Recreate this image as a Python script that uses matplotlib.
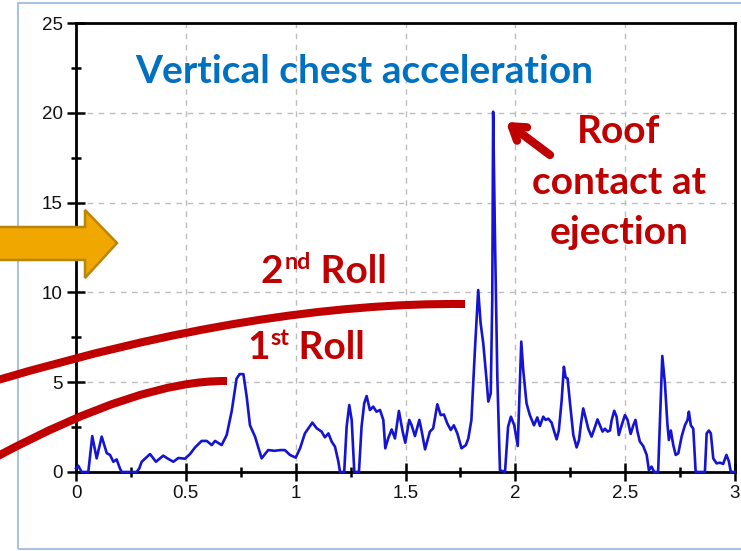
import matplotlib
matplotlib.use("Agg")
import matplotlib.pyplot as plt
from matplotlib.path import Path
from matplotlib.patches import PathPatch, Polygon, Rectangle
from matplotlib.ticker import MultipleLocator

# ---------------- data (time in s, vertical chest acceleration in g) -------------
time_s = [0.000, 0.010, 0.026, 0.056, 0.074, 0.094, 0.117, 0.140, 0.155, 0.170,
          0.185, 0.200, 0.208, 0.276, 0.288, 0.299, 0.337, 0.364, 0.397, 0.420,
          0.443, 0.466, 0.496, 0.519, 0.542, 0.572, 0.595, 0.618, 0.633, 0.663,
          0.686, 0.709, 0.731, 0.745, 0.762, 0.777, 0.792, 0.815, 0.845, 0.875,
          0.906, 0.929, 0.951, 0.974, 1.000, 1.020, 1.042, 1.076, 1.096, 1.118,
          1.133, 1.149, 1.164, 1.179, 1.194, 1.202, 1.221, 1.232, 1.244, 1.255,
          1.267, 1.288, 1.300, 1.312, 1.323, 1.338, 1.353, 1.368, 1.384, 1.399,
          1.408, 1.421, 1.437, 1.452, 1.470, 1.487, 1.499, 1.517, 1.528, 1.543,
          1.563, 1.574, 1.589, 1.611, 1.626, 1.645, 1.660, 1.675, 1.690, 1.706,
          1.720, 1.736, 1.755, 1.775, 1.786, 1.800, 1.816, 1.831, 1.842, 1.854,
          1.869, 1.877, 1.888, 1.895, 1.899, 1.907, 1.918, 1.930, 1.953, 1.967,
          1.980, 1.995, 2.011, 2.018, 2.027, 2.036, 2.051, 2.066, 2.085, 2.100,
          2.112, 2.127, 2.138, 2.150, 2.165, 2.177, 2.188, 2.198, 2.211, 2.221,
          2.229, 2.238, 2.249, 2.264, 2.279, 2.290, 2.299, 2.309, 2.321, 2.332,
          2.347, 2.359, 2.374, 2.385, 2.397, 2.408, 2.420, 2.431, 2.438, 2.450,
          2.461, 2.471, 2.484, 2.499, 2.511, 2.525, 2.537, 2.547, 2.556, 2.567,
          2.582, 2.598, 2.608, 2.620, 2.632, 2.650, 2.658, 2.669, 2.681, 2.692,
          2.699, 2.708, 2.719, 2.730, 2.742, 2.757, 2.772, 2.784, 2.790, 2.799,
          2.810, 2.821, 2.863, 2.871, 2.881, 2.890, 2.901, 2.916, 2.931, 2.946,
          2.961, 2.972, 2.981, 3.000]
accel_g = [0.20, 0.35, 0.00, 0.00, 2.00, 0.76, 1.97, 1.05, 0.95, 0.57,
           0.70, 0.20, 0.00, 0.00, 0.20, 0.57, 1.00, 0.57, 0.91, 0.73,
           0.57, 0.78, 0.74, 1.00, 1.37, 1.73, 1.73, 1.50, 1.73, 1.50,
           2.06, 3.40, 5.20, 5.45, 5.45, 4.20, 2.60, 1.97, 0.76, 1.22,
           1.18, 1.22, 1.22, 0.95, 0.80, 1.32, 2.15, 2.75, 2.43, 2.25,
           1.93, 2.15, 1.69, 1.41, 0.60, 0.00, 0.00, 2.52, 3.73, 2.90,
           0.00, 0.00, 2.52, 3.82, 4.23, 3.45, 3.64, 3.36, 3.45, 2.90,
           1.32, 1.87, 2.37, 1.87, 3.40, 2.25, 1.63, 2.90, 2.60, 2.00,
           2.90, 2.25, 1.26, 2.25, 2.43, 3.77, 3.17, 3.20, 2.71, 2.34,
           2.60, 2.15, 1.32, 1.50, 1.87, 2.90, 6.80, 10.13, 8.28, 7.16,
           5.12, 3.92, 4.38, 9.58, 20.06, 13.30, 5.30, 0.10, 0.00, 2.52,
           3.08, 2.60, 1.45, 4.00, 7.26, 5.68, 3.82, 3.17, 2.60, 3.04,
           2.56, 3.08, 2.90, 2.97, 2.75, 2.25, 1.82, 2.31, 4.00, 5.86,
           5.27, 5.20, 3.82, 2.06, 1.37, 1.78, 2.71, 3.54, 2.97, 2.41,
           1.97, 2.38, 2.93, 2.60, 2.25, 2.41, 2.25, 2.31, 2.85, 3.41,
           3.08, 2.06, 2.60, 3.17, 2.90, 2.12, 2.60, 2.90, 2.25, 1.69,
           1.45, 0.95, 0.10, 0.30, 0.00, 0.00, 2.71, 6.46, 4.94, 2.71,
           1.78, 2.31, 1.50, 0.95, 1.04, 1.97, 2.60, 2.90, 3.36, 2.60,
           2.41, 0.00, 0.00, 2.15, 2.31, 2.15, 0.76, 0.48, 0.52, 0.45,
           0.95, 0.60, 0.00, 0.00]

x_ticks = [0, 0.5, 1, 1.5, 2, 2.5, 3]
x_tick_labels = ["0", "0.5", "1", "1.5", "2", "2.5", "3"]
y_ticks = [0, 5, 10, 15, 20, 25]
y_tick_labels = ["0", "5", "10", "15", "20", "25"]

title_text = "Vertical chest acceleration"
roof_lines = ["Roof", "contact at", "ejection"]

# ---------------- figure -------------
W, H = 741, 551
fig = plt.figure(figsize=(W / 100, H / 100), dpi=100)
fig.patch.set_facecolor("white")


def fx(px):
    return px / W


def fy(py):
    return 1 - py / H


ax = fig.add_axes([fx(76), fy(472), fx(735) - fx(76), fy(23) - fy(472)])
ax.plot(time_s, accel_g, color="#1414D2", lw=1.9, clip_on=False, zorder=5)
ax.set_xlim(0, 3)
ax.set_ylim(0, 25)
ax.set_xticks(x_ticks)
ax.set_xticklabels(x_tick_labels)
ax.set_yticks(y_ticks)
ax.set_yticklabels(y_tick_labels)
ax.xaxis.set_minor_locator(MultipleLocator(0.25))
ax.yaxis.set_minor_locator(MultipleLocator(2.5))
ax.grid(True, which="major", color="#BDBDBD", linestyle=(0, (4, 4)), lw=1.0)
for s in ax.spines.values():
    s.set_linewidth(2.0)
    s.set_color("black")
ax.tick_params(which="major", direction="inout", length=13, width=1.8,
               labelsize=13.5, pad=3)
ax.tick_params(which="minor", direction="inout", length=7, width=1.8)
ax.tick_params(axis="x", which="both", top=False)
ax.tick_params(axis="y", which="both", right=False)
for lab in ax.get_xticklabels() + ax.get_yticklabels():
    lab.set_fontfamily("Liberation Sans")
    lab.set_color("#111111")

# ---------------- slide border -------------
fig.patches.append(Rectangle((fx(18), fy(549)), 1.2, fy(3) - fy(549),
                             transform=fig.transFigure, fill=False,
                             edgecolor="#A9C3E0", lw=1.5, zorder=0))

# ---------------- title -------------
fig.text(fx(135), fy(83), title_text, color="#0070C0", fontsize=28,
         fontweight="bold", family="Lato", va="baseline", ha="left", zorder=10)

red = "#C00000"

# ---------------- roll curves -------------
def curve(p0, p1, p2):
    verts = [(fx(p0[0]), fy(p0[1])), (fx(p1[0]), fy(p1[1])), (fx(p2[0]), fy(p2[1]))]
    path = Path(verts, [Path.MOVETO, Path.CURVE3, Path.CURVE3])
    patch = PathPatch(path, transform=fig.transFigure, fill=False,
                      edgecolor=red, lw=5.8, capstyle="butt", zorder=8)
    fig.patches.append(patch)


curve((-2, 380), (260, 302), (465, 304))
curve((-2, 456), (140, 380), (227, 381))

# ---------------- superscript labels -------------
renderer = fig.canvas.get_renderer()


def sup_label(x0, base, main, sup, rest, size=28):
    t1 = fig.text(fx(x0), fy(base), main, color=red, fontsize=size,
                  fontweight="bold", family="Lato", va="baseline", zorder=10)
    bb = t1.get_window_extent(renderer)
    t2 = fig.text((bb.x1 + 1) / W, fy(base - 14), sup, color=red,
                  fontsize=size * 0.6, fontweight="bold", family="Lato",
                  va="baseline", zorder=10)
    bb2 = t2.get_window_extent(renderer)
    fig.text(bb2.x1 / W, fy(base), rest, color=red, fontsize=size,
             fontweight="bold", family="Lato", va="baseline", zorder=10)


sup_label(261, 283, "2", "nd", " Roll")
sup_label(247, 359, "1", "st", " Roll")

# ---------------- roof text + arrow -------------
for line, base in zip(roof_lines, [143, 194, 244]):
    fig.text(fx(619), fy(base), line, color=red, fontsize=28, fontweight="bold",
             family="Lato", va="baseline", ha="center", zorder=10)

ax.annotate("", xy=(fx(506), fy(122)), xycoords="figure fraction",
            xytext=(fx(550), fy(155)), textcoords="figure fraction",
            arrowprops=dict(arrowstyle="->,head_length=0.9,head_width=0.6",
                            color=red, lw=6, shrinkA=0, shrinkB=0),
            zorder=10)

# ---------------- orange block arrow -------------
arrow_pts = [(-2, 227), (85, 227), (85, 210), (117, 243), (85, 278), (85, 260), (-2, 260)]
fig.patches.append(Polygon([(fx(a), fy(b)) for a, b in arrow_pts], closed=True,
                           transform=fig.transFigure, facecolor="#F0A800",
                           edgecolor="#B8860B", lw=1.8, zorder=9))

fig.savefig("out.png", dpi=100)
